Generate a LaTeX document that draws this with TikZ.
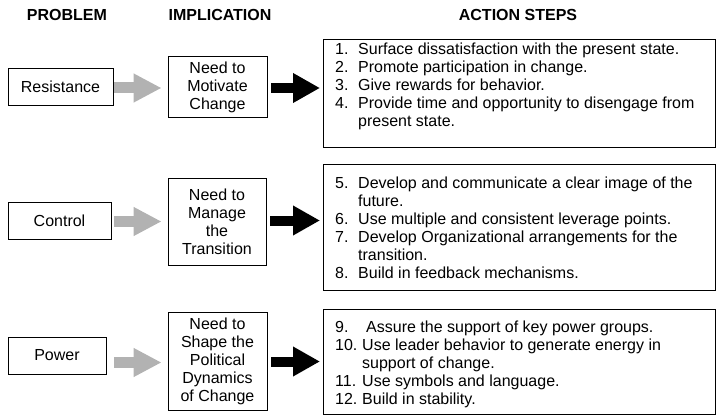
\documentclass[tikz,border=0pt]{standalone}
\usepackage{fontspec}
\setmainfont{Liberation Sans}
\usetikzlibrary{arrows.meta,calc}
\begin{document}
\begin{tikzpicture}[x=1pt,y=-1pt,
  every node/.style={font=\fontsize{16}{18}\selectfont},
  hdr/.style={font=\fontsize{16}{18}\selectfont\bfseries, anchor=center},
  pbox/.style={draw=black, line width=0.8pt, inner sep=0pt, align=center},
  abox/.style={draw=black, line width=0.8pt, inner sep=0pt},
  num/.style={anchor=base west, inner sep=0pt},
  itm/.style={anchor=base west, inner sep=0pt},
  grayarrow/.style={draw=gray!60, line width=11pt, -{Triangle[length=28pt,width=27pt]}},
  blackarrow/.style={draw=black, line width=10pt, -{Triangle[length=27pt,width=28pt]}}
]
\useasboundingbox (0,0) rectangle (717,417);

% headers
\node[hdr] (h1) at (67,15) {PROBLEM};
\node[hdr] (h2) at (220,15) {IMPLICATION};
\node[hdr] (h3) at (518,15) {ACTION STEPS};

% problem boxes
\node[pbox, minimum width=105pt, minimum height=37pt] (res) at (60.5,86.5) {Resistance};
\node[pbox, minimum width=103pt, minimum height=37pt] (con) at (59.5,220.5) {Control};
\node[pbox, minimum width=98pt, minimum height=37pt] (pow) at (57,355.5) {Power};

% implication boxes
\node[pbox, minimum width=99pt, minimum height=61pt] (imp1) at (217.5,87) {Need to\\Motivate\\Change};
\node[pbox, minimum width=98pt, minimum height=87pt] (imp2) at (217,221.5) {Need to\\Manage\\the\\Transition};
\node[pbox, minimum width=99pt, minimum height=98pt] (imp3) at (217.5,361.5) {Need to\\Shape the\\Political\\Dynamics\\of Change};

% action boxes
\node[abox, minimum width=392pt, minimum height=108pt, anchor=north west] (act1) at (323,39) {};
\node[abox, minimum width=392pt, minimum height=126pt, anchor=north west] (act2) at (323,164) {};
\node[abox, minimum width=392pt, minimum height=105pt, anchor=north west] (act3) at (323,309) {};

% box 1 items
\node[num] (n1) at (335,54.5) {1.};
\node[itm] (t1) at (358,54.5) {Surface dissatisfaction with the present state.};
\node[num] (n2) at (335,72.5) {2.};
\node[itm] (t2) at (358,72.5) {Promote participation in change.};
\node[num] (n3) at (335,90.5) {3.};
\node[itm] (t3) at (358,90.5) {Give rewards for behavior.};
\node[num] (n4) at (335,108.5) {4.};
\node[itm] (t4) at (358,108.5) {Provide time and opportunity to disengage from};
\node[itm] (t4b) at (358,126.5) {present state.};

% box 2 items
\node[num] (n5) at (335,188.5) {5.};
\node[itm] (t5) at (358,188.5) {Develop and communicate a clear image of the};
\node[itm] (t5b) at (358,206.5) {future.};
\node[num] (n6) at (335,224.5) {6.};
\node[itm] (t6) at (358,224.5) {Use multiple and consistent leverage points.};
\node[num] (n7) at (335,242.5) {7.};
\node[itm] (t7) at (358,242.5) {Develop Organizational arrangements for the};
\node[itm] (t7b) at (358,260.5) {transition.};
\node[num] (n8) at (335,278.5) {8.};
\node[itm] (t8) at (358,278.5) {Build in feedback mechanisms.};

% box 3 items
\node[num] (n9) at (335,332.5) {9.};
\node[itm] (t9) at (366,332.5) {Assure the support of key power groups.};
\node[num] (n10) at (335,350.5) {10.};
\node[itm] (t10) at (362,350.5) {Use leader behavior to generate energy in};
\node[itm] (t10b) at (362,368.5) {support of change.};
\node[num] (n11) at (335,386.5) {11.};
\node[itm] (t11) at (362,386.5) {Use symbols and language.};
\node[num] (n12) at (335,404.5) {12.};
\node[itm] (t12) at (362,404.5) {Build in stability.};

% gray arrows
\draw[grayarrow, shorten <=1pt, shorten >=6pt] ($(res.east)+(0,1.5)$) -- ($(imp1.west)+(0,1)$);
\draw[grayarrow, shorten <=3pt, shorten >=6pt] ($(con.east)+(0,1)$) -- (imp2.west);
\draw[grayarrow, shorten <=8pt, shorten >=6pt] ($(pow.east |- imp3.west)+(0,1)$) -- ($(imp3.west)+(0,1)$);

% black arrows
\draw[blackarrow, shorten <=4pt, shorten >=3pt] ($(imp1.east)+(0,1)$) -- ($(act1.west |- imp1.east)+(0,1)$);
\draw[blackarrow, shorten <=4pt, shorten >=3pt] ($(imp2.east)+(0,-1)$) -- ($(act2.west |- imp2.east)+(0,-1)$);
\draw[blackarrow, shorten <=4pt, shorten >=3pt] (imp3.east) -- (act3.west |- imp3.east);
\end{tikzpicture}
\end{document}
